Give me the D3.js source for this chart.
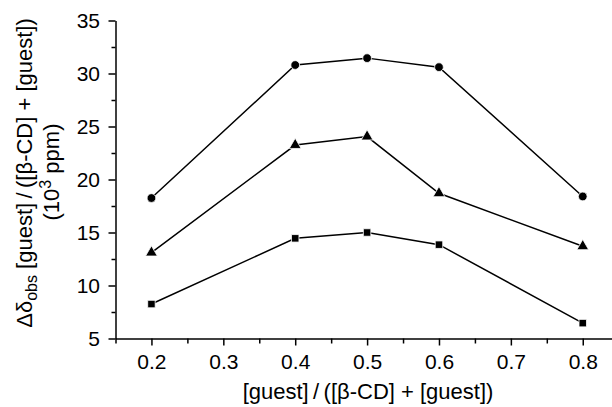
<!DOCTYPE html>
<html>
<head>
<meta charset="utf-8">
<script src="https://cdn.jsdelivr.net/npm/d3@7"></script>
<style>
  body { margin: 0; background: #fff; }
  text { font-family: "Liberation Sans", Arial, sans-serif; fill: #000; }
</style>
</head>
<body>
<div id="chart-area"></div>
<script>
var fraction = [0.2, 0.4, 0.5, 0.6, 0.8];
var circleSeries = [18.25, 30.8, 31.45, 30.6, 18.4];
var triangleSeries = [13.1, 23.25, 24.05, 18.7, 13.7];
var squareSeries = [8.25, 14.45, 15.0, 13.85, 6.45];
var xTicks = [0.2, 0.3, 0.4, 0.5, 0.6, 0.7, 0.8];
var yTicks = [5, 10, 15, 20, 25, 30, 35];

var width = 612,
    height = 407;

var x = d3.scaleLinear().domain([0.15, 0.84]).range([115.5, 611.5]);
var y = d3.scaleLinear().domain([5, 35]).range([338.5, 20.5]);

var svg = d3.select("#chart-area")
    .append("svg")
        .attr("width", width)
        .attr("height", height);

// minor ticks
svg.append("g")
    .attr("transform", "translate(0,338.5)")
    .call(d3.axisBottom(x).tickValues(d3.range(0.15, 0.84, 0.1)).tickSize(5).tickFormat(""))
    .call(g => g.select(".domain").remove())
    .selectAll("line").attr("stroke-width", 1.5);

svg.append("g")
    .attr("transform", "translate(115.5,0)")
    .call(d3.axisLeft(y).tickValues(d3.range(7.5, 35, 5)).tickSize(4).tickFormat(""))
    .call(g => g.select(".domain").remove())
    .selectAll("line").attr("stroke-width", 1.5);

// major axes
var xAxis = svg.append("g")
    .attr("transform", "translate(0,338.5)")
    .call(d3.axisBottom(x).tickValues(xTicks).tickSize(7).tickSizeOuter(0).tickPadding(9).tickFormat(d3.format(".1f")));
xAxis.select(".domain").attr("stroke-width", 1.5);
xAxis.selectAll("line").attr("stroke-width", 1.5);
xAxis.selectAll("text").style("font-size", "21px");

var yAxis = svg.append("g")
    .attr("transform", "translate(115.5,0)")
    .call(d3.axisLeft(y).tickValues(yTicks).tickSize(7).tickSizeOuter(0).tickPadding(8.5));
yAxis.select(".domain").attr("stroke-width", 1.5);
yAxis.selectAll("line").attr("stroke-width", 1.5);
yAxis.selectAll("text").style("font-size", "21px");

// axis titles
svg.append("text")
    .attr("x", 368)
    .attr("y", 399)
    .attr("text-anchor", "middle")
    .style("font-size", "22px")
    .text("[guest]\u2009/\u2009([β-CD] + [guest])");

var yl = svg.append("text")
    .attr("transform", "translate(32,173) rotate(-90)")
    .attr("text-anchor", "middle")
    .style("font-size", "22px");
yl.append("tspan").text("Δδ");
yl.append("tspan").attr("dy", 5).style("font-size", "16px").text("obs");
yl.append("tspan").attr("dy", -5).text(" [guest]\u2009/\u2009([β-CD] + [guest])");

var yl2 = svg.append("text")
    .attr("transform", "translate(59,172) rotate(-90)")
    .attr("text-anchor", "middle")
    .style("font-size", "22px");
yl2.append("tspan").text("(10");
yl2.append("tspan").attr("dy", -8).style("font-size", "16px").text("3");
yl2.append("tspan").attr("dy", 8).text(" ppm)");

var line = d3.line()
    .x(function(d) { return x(d[0]); })
    .y(function(d) { return y(d[1]); });

var series = [
    { values: circleSeries, symbol: d3.symbolCircle, size: 60 },
    { values: triangleSeries, symbol: d3.symbolTriangle, size: 60 },
    { values: squareSeries, symbol: d3.symbolSquare, size: 56 }
];

series.forEach(function(s) {
    var pts = fraction.map(function(f, i) { return [f, s.values[i]]; });
    svg.append("path")
        .datum(pts)
        .attr("d", line)
        .attr("fill", "none")
        .attr("stroke", "#000")
        .attr("stroke-width", 1.5);
    svg.selectAll(null)
        .data(pts)
      .enter().append("path")
        .attr("transform", function(d) { return "translate(" + x(d[0]) + "," + y(d[1]) + ")"; })
        .attr("d", d3.symbol().type(s.symbol).size(s.size))
        .attr("fill", "#000")
        .attr("stroke", "#fff")
        .attr("stroke-width", 0.8);
});
</script>
</body>
</html>
